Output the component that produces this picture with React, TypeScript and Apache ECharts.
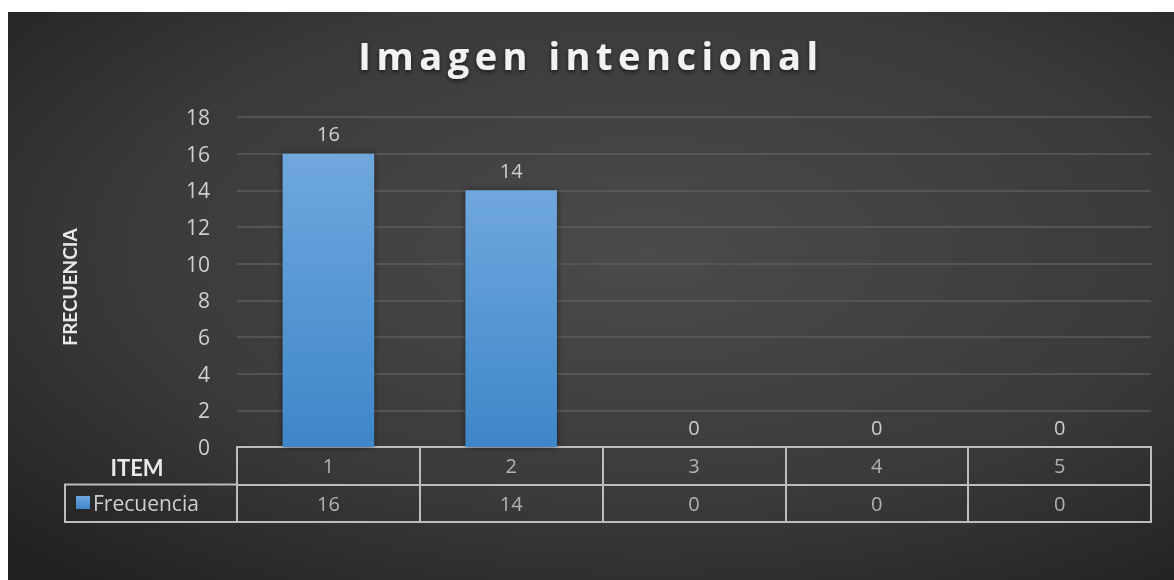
import React, { useEffect, useRef } from "react";
import * as echarts from "echarts";

// Chart content
const chartTitle = "Imagen intencional";
const yAxisName = "FRECUENCIA";
const tableHeader = "ITEM";
const seriesName = "Frecuencia";
const items = ["1", "2", "3", "4", "5"];
const frecuencia = [16, 14, 0, 0, 0];
const yMin = 0;
const yMax = 18;
const yStep = 2;
// data-table rows, bottom to top
const tableRows = [seriesName, tableHeader];

const textColor = "#cfcfcf";
const lineColor = "#bdbdbd";

// the title is drawn letter-spaced; zrender has no letter-spacing option,
// so it is applied to the SVG text node once the chart has rendered
function spaceTitle(dom: HTMLElement) {
  dom.querySelectorAll("text").forEach((t) => {
    if (t.textContent === chartTitle) {
      (t as SVGTextElement).style.letterSpacing = "5.5px";
    }
  });
}

export default function App() {
  const ref = useRef<HTMLDivElement>(null);

  useEffect(() => {
    if (!ref.current) return;
    const dom = ref.current;
    const chart = echarts.init(dom, undefined, { renderer: "svg" });

    const tableCells = [
      ...items.map((c, i) => [i, tableHeader, c]),
      ...frecuencia.map((v, i) => [i, seriesName, String(v)]),
    ];

    chart.on("finished", () => spaceTitle(dom));

    chart.setOption({
      animation: false,
      backgroundColor: {
        type: "radial",
        x: 0.55,
        y: 0.42,
        r: 0.75,
        colorStops: [
          { offset: 0, color: "#4b4b4b" },
          { offset: 0.6, color: "#3a3a3a" },
          { offset: 1, color: "#222222" },
        ],
      },
      title: {
        text: chartTitle,
        left: "center",
        top: 19,
        padding: 5,
        textStyle: {
          fontFamily: "Open Sans",
          fontWeight: "bold",
          fontSize: 38,
          color: "#f2f2f2",
          textShadowColor: "rgba(0,0,0,0.6)",
          textShadowBlur: 4,
          textShadowOffsetY: 2,
        },
      },
      legend: {
        data: [seriesName],
        left: 68,
        top: 480,
        icon: "rect",
        itemWidth: 14,
        itemHeight: 13,
        itemGap: 6,
        padding: 0,
        textStyle: { color: textColor, fontFamily: "Open Sans", fontSize: 21, padding: [0, 0, 0, -2] },
      },
      grid: [
        { left: 229, right: 23, top: 105, bottom: 133 },
        {
          left: 229,
          right: 23,
          top: 435,
          bottom: 58,
          show: true,
          borderColor: lineColor,
          borderWidth: 2,
          backgroundColor: "transparent",
        },
      ],
      xAxis: [
        {
          gridIndex: 0,
          type: "category",
          data: items,
          axisLine: { show: false },
          axisTick: { show: false },
          axisLabel: { show: false },
        },
        {
          gridIndex: 1,
          type: "category",
          data: items,
          axisLine: { show: false },
          axisTick: { show: false },
          axisLabel: { show: false },
          splitLine: { show: true, interval: 0, lineStyle: { color: lineColor, width: 2 } },
        },
      ],
      yAxis: [
        {
          gridIndex: 0,
          type: "value",
          min: yMin,
          max: yMax,
          interval: yStep,
          name: yAxisName,
          nameLocation: "middle",
          nameGap: 158,
          nameTextStyle: {
            color: "#e8e8e8",
            fontFamily: "Lato",
            fontWeight: "bold",
            fontSize: 19,
            padding: [0, 10, 0, 0],
          },
          axisLine: { show: false },
          axisTick: { show: false },
          axisLabel: {
            color: textColor,
            fontFamily: "Open Sans",
            fontSize: 21,
            margin: 27,
          },
          splitLine: { lineStyle: { color: "#5c5c5c", width: 1.5 } },
        },
        {
          gridIndex: 1,
          type: "category",
          data: tableRows,
          axisLine: { show: false },
          axisTick: { show: false },
          axisLabel: { show: false },
          splitLine: { show: true, interval: 0, lineStyle: { color: lineColor, width: 2 } },
        },
      ],
      graphic: [
        {
          type: "rect",
          shape: { x: 57, y: 472.5, width: 172, height: 37.5 },
          style: { fill: "transparent", stroke: lineColor, lineWidth: 2 },
        },
        {
          type: "text",
          x: 129,
          y: 455,
          style: {
            text: tableHeader,
            fill: "#e8e8e8",
            font: "bold 22px Lato",
            align: "center",
            verticalAlign: "middle",
          },
        },
      ],
      series: [
        {
          name: seriesName,
          type: "bar",
          xAxisIndex: 0,
          yAxisIndex: 0,
          data: frecuencia,
          barWidth: "50%",
          itemStyle: {
            color: {
              type: "linear",
              x: 0,
              y: 0,
              x2: 0,
              y2: 1,
              colorStops: [
                { offset: 0, color: "#6fa8dd" },
                { offset: 1, color: "#3e86c8" },
              ],
            },
            shadowColor: "rgba(0,0,0,0.5)",
            shadowBlur: 6,
          },
          label: {
            show: true,
            position: "top",
            distance: 10,
            color: textColor,
            fontFamily: "Open Sans",
            fontSize: 20,
          },
        },
        {
          type: "scatter",
          xAxisIndex: 1,
          yAxisIndex: 1,
          symbolSize: 0,
          silent: true,
          legendHoverLink: false,
          data: tableCells,
          label: {
            show: true,
            position: "inside",
            formatter: (p: any) => p.value[2],
            color: textColor,
            fontFamily: "Open Sans",
            fontSize: 20,
          },
        },
      ],
    });
    spaceTitle(dom);

    return () => chart.dispose();
  }, []);

  return (
    <div style={{ position: "fixed", left: 8, top: 12, right: 0, bottom: 0 }}>
      <div ref={ref} style={{ width: 1166, height: 568 }} />
    </div>
  );
}
